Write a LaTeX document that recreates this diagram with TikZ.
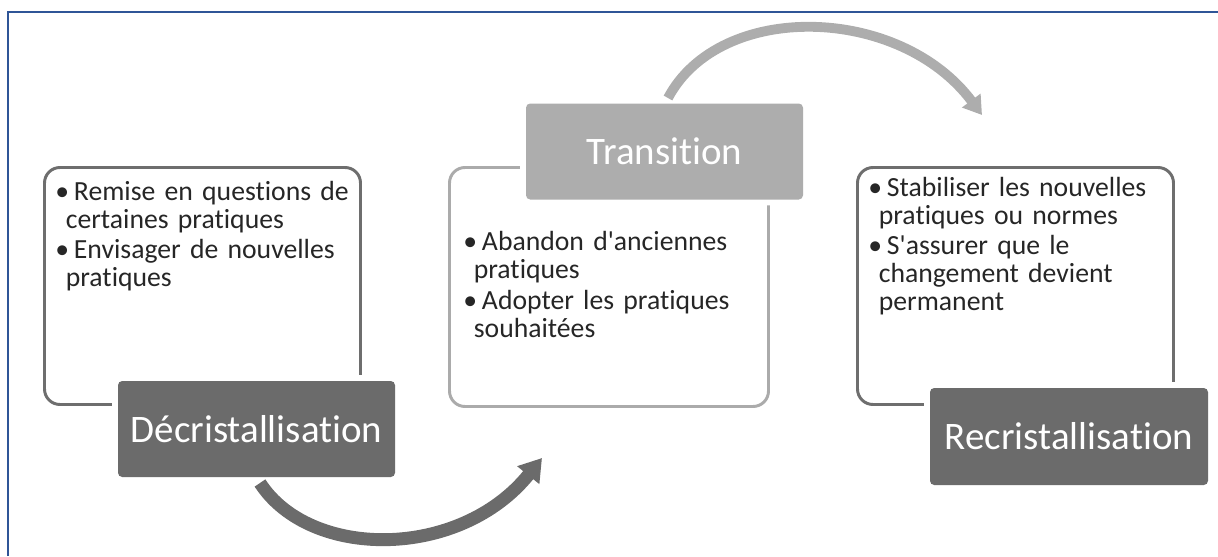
\documentclass[tikz,border=0pt]{standalone}
\usepackage{fontspec}
\setmainfont{Carlito}[Ligatures={NoCommon}]
\usetikzlibrary{arrows.meta,positioning}
\definecolor{cadreFonce}{HTML}{6E6E6E}
\definecolor{cadreClair}{HTML}{ABABAB}
\definecolor{titreFonce}{HTML}{6B6B6B}
\definecolor{titreClair}{HTML}{ADADAD}
\definecolor{texteGris}{HTML}{262626}
\definecolor{bordBleu}{HTML}{2F5597}
\newcommand{\suite}{\hspace*{7.5pt}}
\newcommand{\puce}{\textbullet\hspace{3.5pt}}

\begin{document}
\begin{tikzpicture}[>=Latex]
\tikzstyle{cadre}=[draw=cadreFonce,line width=2.1pt,rounded corners=11pt,minimum width=7.9cm,minimum height=5.925cm]
\tikzstyle{titre}=[fill=titreFonce,text=white,rounded corners=3pt,minimum width=6.925cm,minimum height=2.4cm,font=\fontsize{27.7}{30}\selectfont,preaction={draw=white,line width=8.5pt}]
\tikzstyle{liste}=[anchor=north west,inner sep=0pt,text width=7.8cm,align=left,text=texteGris,font=\fontsize{19.7}{19.8}\selectfont]
\tikzstyle{fleche}=[-{Triangle[width=0.675cm,length=0.55cm]},line width=9.2pt,draw=titreFonce]
\useasboundingbox (0,0) rectangle (30.45,13.9);
\draw[bordBleu,line width=1.4pt] (0.2,0) -- (0.2,13.6) -- (30.45,13.6);

% cadres
\node[cadre] (cadreD) at (5.0625,6.75) {};
\node[cadre,draw=cadreClair,minimum width=7.975cm,minimum height=5.975cm] (cadreT) at (15.225,6.725) {};
\node[cadre] (cadreR) at (25.3875,6.75) {};

% titres
\node[titre] (decr) at (6.4125,3.175) {Décristallisation};
\node[titre,fill=titreClair] (trans) at (16.6125,10.1125) {Transition};
\node[titre,minimum width=6.95cm,minimum height=2.425cm] (recr) at (26.725,2.9875) {Recristallisation};

% listes
\node[liste] (txtD) at (1.375,9.375) {\puce Remise en questions de\\\suite certaines pratiques\\[2pt]\puce Envisager de nouvelles\\\suite pratiques};
\node[liste] (txtT) at (11.575,8.125) {\puce Abandon d\textquotesingle anciennes\\\suite pratiques\\[2.5pt]\puce Adopter les pratiques\\\suite souhaitées};
\node[liste] (txtR) at (21.7,9.475) {\puce Stabiliser les nouvelles\\\suite pratiques ou normes\\[2pt]\puce S\textquotesingle assurer que le\\\suite changement devient\\\suite permanent};

% fleches
\coordinate (b1) at (6.5,1.825);
\coordinate (b2) at (13.55,2.45);
\coordinate (h1) at (16.7,11.45);
\coordinate (h2) at (24.55,11.025);
\draw[fleche] (b1) .. controls (7.75,-0.1) and (11.5,-0.1) .. (b2);
\draw[fleche,draw=titreClair,line width=7pt,-{Triangle[width=0.55cm,length=0.45cm]}] (h1) .. controls (18.0,13.9) and (22.5,13.775) .. (h2);
\end{tikzpicture}
\end{document}
